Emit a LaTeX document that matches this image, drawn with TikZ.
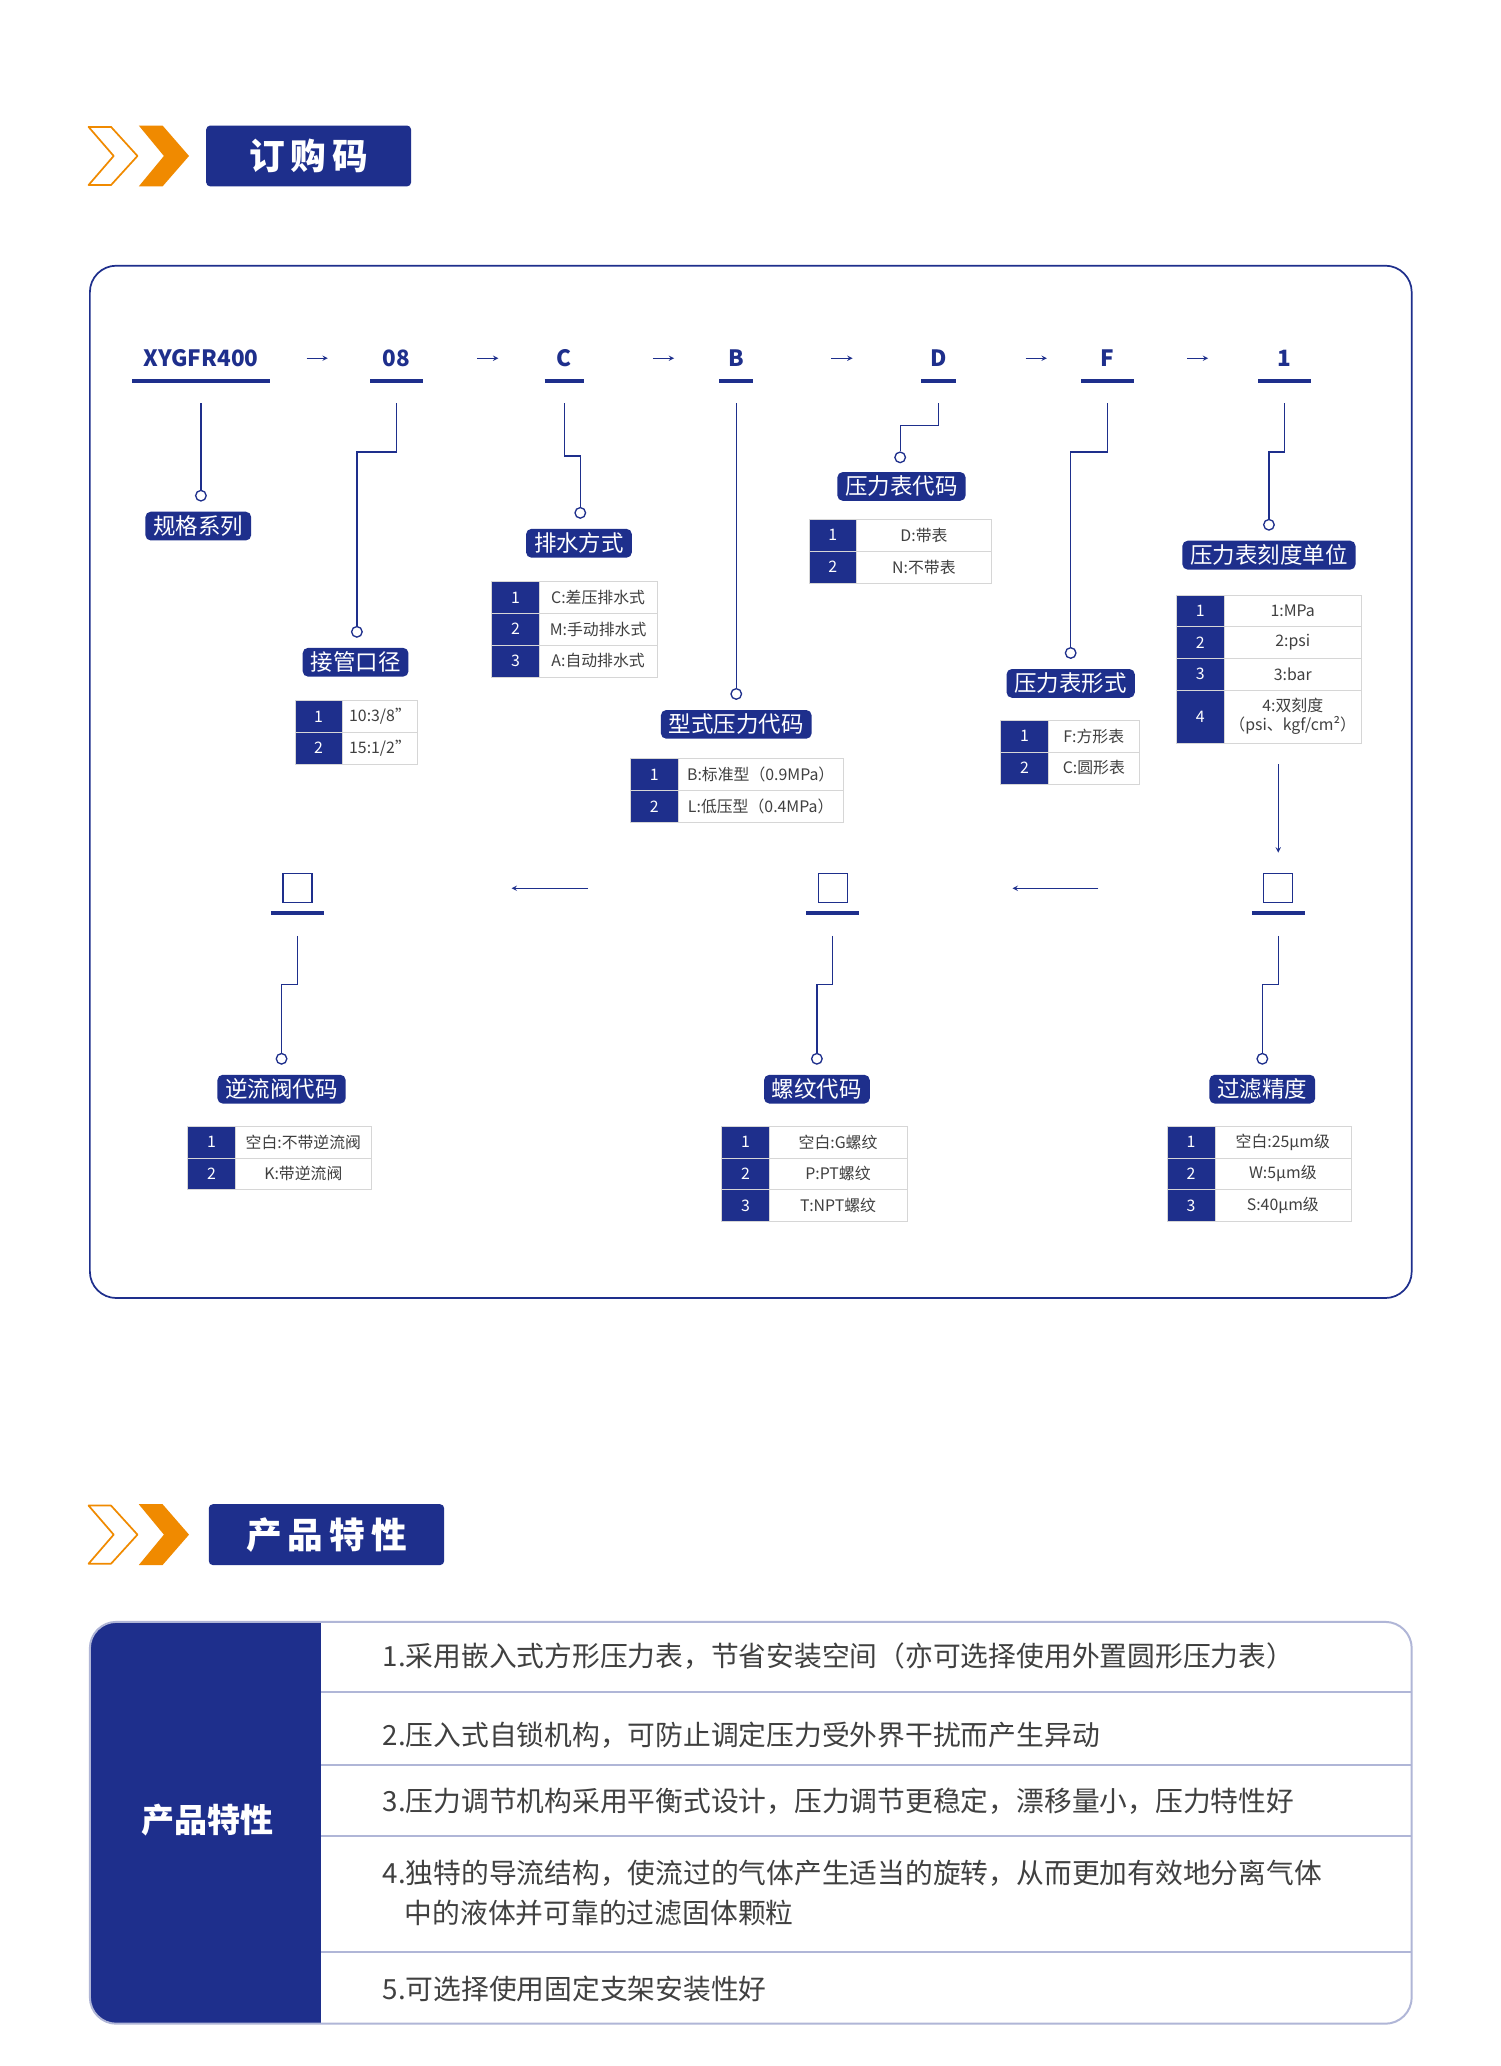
\documentclass[tikz,border=0pt]{standalone}
\usepackage{fontspec}
\setmainfont{Noto Sans CJK SC}
\usetikzlibrary{positioning}
\definecolor{navy}{HTML}{1E2F8C}
\definecolor{orng}{HTML}{F08A00}
\definecolor{cellline}{HTML}{D6D6D6}
\tikzset{
  code/.style={font=\fontsize{17}{17}\selectfont\bfseries, text=navy},
  tag/.style={fill=navy, text=white, rounded corners=4pt, font=\fontsize{17}{17}\selectfont, inner xsep=6pt, inner ysep=3pt},
  dot/.style={circle, draw=navy, line width=1pt, fill=white, inner sep=0pt, minimum size=8pt},
  wire/.style={draw=navy, line width=1pt},
  bar/.style={draw=navy, line width=3pt},
  arr/.style={->, >=stealth, draw=navy, line width=0.8pt},
  numcell/.style={fill=navy, draw=cellline, text=white, font=\fontsize{12}{12}\selectfont},
  txtcell/.style={fill=white, draw=cellline, text=black!75, font=\fontsize{12}{12}\selectfont},
  feat/.style={font=\fontsize{21}{21}\selectfont, text=black!75, anchor=west}
}
% one row of a code table: x, y(top), width, number, text
\newcommand{\trow}[5]{%
  \path[numcell] (#1,#2) rectangle ++(36,24);
  \node[text=white,font=\fontsize{12}{12}\selectfont] at (#1+18,#2+12) {#4};
  \path[txtcell] (#1+36,#2) rectangle (#1+#3,#2+24);
  \node[text=black!75,font=\fontsize{12}{12}\selectfont] at ({#1+36+(#3-36)/2},#2+12) {#5};}
\newcommand{\chevrons}[1]{%
  \draw[orng, line width=1.3pt, line join=round] (67,#1-22) -- (84,#1-22) -- (104,#1) -- (84,#1+22) -- (67,#1+22) -- (86,#1) -- cycle;
  \fill[orng] (105,#1-23) -- (123,#1-23) -- (143,#1) -- (123,#1+23) -- (105,#1+23) -- (124,#1) -- cycle;}
\begin{document}
\begin{tikzpicture}[x=1pt,y=-1pt]
\useasboundingbox[fill=white] (0,0) rectangle (1135,1563);

% header 1
\chevrons{118}
\node[fill=navy, rounded corners=3pt, minimum width=155pt, minimum height=46pt, text=white, font=\fontsize{27}{27}\selectfont\bfseries] (title1) at (233.5,118) {订\,购\,码};

\draw[navy, line width=1.3pt, rounded corners=20pt] (68,201) rectangle (1068,982);

% code row
\foreach \x/\t/\w/\n in {152/XYGFR400/52/c0, 300/08/20/c1, 427/C/15/c2, 557/B/13/c3, 710/D/13/c4, 838/F/20/c5, 972/1/20/c6}{
  \node[code] (\n) at (\x,271) {\t};
  \draw[bar] (\x-\w,288) -- (\x+\w,288);
}
\foreach \x in {240,369,502,637,784,906}
  \draw[arr] (\x-8,271) -- (\x+8,271);

% spec series
\node[dot] (d0) at (152,375) {};
\draw[wire] (152,305) -- (d0);
\node[tag] (t0) at (150,398) {规格系列};

% pipe size
\node[dot] (d1) at (270,478) {};
\draw[wire] (300,305) -- (300,342) -- (270,342) -- (d1);
\node[tag] (t1) at (269,501) {接管口径};
\trow{223}{530}{93}{1}{10:3/8"}
\trow{223}{554}{93}{2}{15:1/2"}

% drain
\node[dot] (d2) at (439,388) {};
\draw[wire] (427,305) -- (427,345) -- (439,345) -- (d2);
\node[tag] (t2) at (438,411) {排水方式};
\trow{372}{440}{125}{1}{C:差压排水式}
\trow{372}{464}{125}{2}{M:手动排水式}
\trow{372}{488}{125}{3}{A:自动排水式}

% type
\node[dot] (d3) at (557,525) {};
\draw[wire] (557,305) -- (d3);
\node[tag] (t3) at (557,548) {型式压力代码};
\trow{477}{574}{161}{1}{B:标准型（0.9MPa）}
\trow{477}{598}{161}{2}{L:低压型（0.4MPa）}

% gauge code
\node[dot] (d4) at (681,346) {};
\draw[wire] (710,305) -- (710,322) -- (681,322) -- (d4);
\node[tag] (t4) at (682,368) {压力表代码};
\trow{612}{393}{138}{1}{D:带表}
\trow{612}{417}{138}{2}{N:不带表}

% gauge form
\node[dot] (d5) at (810,494) {};
\draw[wire] (838,305) -- (838,342) -- (810,342) -- (d5);
\node[tag] (t5) at (810,517) {压力表形式};
\trow{757}{545}{105}{1}{F:方形表}
\trow{757}{569}{105}{2}{C:圆形表}

% gauge unit
\node[dot] (d6) at (960,397) {};
\draw[wire] (972,305) -- (972,342) -- (960,342) -- (d6);
\node[tag] (t6) at (960,420) {压力表刻度单位};
\trow{890}{450}{140}{1}{1:MPa}
\trow{890}{474}{140}{2}{2:psi}
\trow{890}{498}{140}{3}{3:bar}
\path[numcell] (890,522) rectangle (926,562);
\node[text=white,font=\fontsize{12}{12}\selectfont] at (908,542) {4};
\path[txtcell] (926,522) rectangle (1030,562);
\node[text=black!75,font=\fontsize{12}{14}\selectfont,align=center] at (978,542) {4:双刻度\\（psi、kgf/cm²）};
\draw[arr] (967,578) -- (967,645);

% lower row
\foreach \x/\n in {225/s1, 630/s2, 967/s3}{
  \node[draw=navy, line width=1pt, minimum size=22pt, inner sep=0pt] (\n) at (\x,672) {};
  \draw[bar] (\x-20,691) -- (\x+20,691);
}
\draw[arr] (831,672) -- (766,672);
\draw[arr] (445,672) -- (387,672);

% filter
\node[dot] (d7) at (955,801) {};
\draw[wire] (967,708) -- (967,745) -- (955,745) -- (d7);
\node[tag] (t7) at (955,824) {过滤精度};
\trow{883}{852}{139}{1}{空白:25μm级}
\trow{883}{876}{139}{2}{W:5μm级}
\trow{883}{900}{139}{3}{S:40μm级}

% thread
\node[dot] (d8) at (618,801) {};
\draw[wire] (630,708) -- (630,745) -- (618,745) -- (d8);
\node[tag] (t8) at (618,824) {螺纹代码};
\trow{546}{852}{140}{1}{空白:G螺纹}
\trow{546}{876}{140}{2}{P:PT螺纹}
\trow{546}{900}{140}{3}{T:NPT螺纹}

% check valve
\node[dot] (d9) at (213,801) {};
\draw[wire] (225,708) -- (225,745) -- (213,745) -- (d9);
\node[tag] (t9) at (213,824) {逆流阀代码};
\trow{142}{852}{139}{1}{空白:不带逆流阀}
\trow{142}{876}{139}{2}{K:带逆流阀}

% header 2
\chevrons{1161}
\node[fill=navy, rounded corners=3pt, minimum width=178pt, minimum height=46pt, text=white, font=\fontsize{27}{27}\selectfont\bfseries] (title2) at (247,1161) {产\,品\,特\,性};

% features table
\begin{scope}
\clip[rounded corners=20pt] (68,1227) rectangle (1068,1531);
\fill[navy] (68,1227) rectangle (243,1531);
\foreach \y in {1280,1335,1389,1477}
  \draw[navy!35, line width=1.5pt] (243,\y) -- (1068,\y);
\end{scope}
\draw[navy!35, line width=1.5pt, rounded corners=20pt] (68,1227) rectangle (1068,1531);
\node[text=white, font=\fontsize{25}{25}\selectfont\bfseries] (fhead) at (157,1377) {产品特性};
\node[feat] (f1) at (286,1253) {1.采用嵌入式方形压力表，节省安装空间（亦可选择使用外置圆形压力表）};
\node[feat] (f2) at (286,1313) {2.压入式自锁机构，可防止调定压力受外界干扰而产生异动};
\node[feat] (f3) at (286,1363) {3.压力调节机构采用平衡式设计，压力调节更稳定，漂移量小，压力特性好};
\node[feat, align=left, font=\fontsize{21}{30}\selectfont] (f4) at (286,1432) {4.独特的导流结构，使流过的气体产生适当的旋转，从而更加有效地分离气体\\\hspace*{0.8em}中的液体并可靠的过滤固体颗粒};
\node[feat] (f5) at (286,1505) {5.可选择使用固定支架安装性好};
\end{tikzpicture}
\end{document}
